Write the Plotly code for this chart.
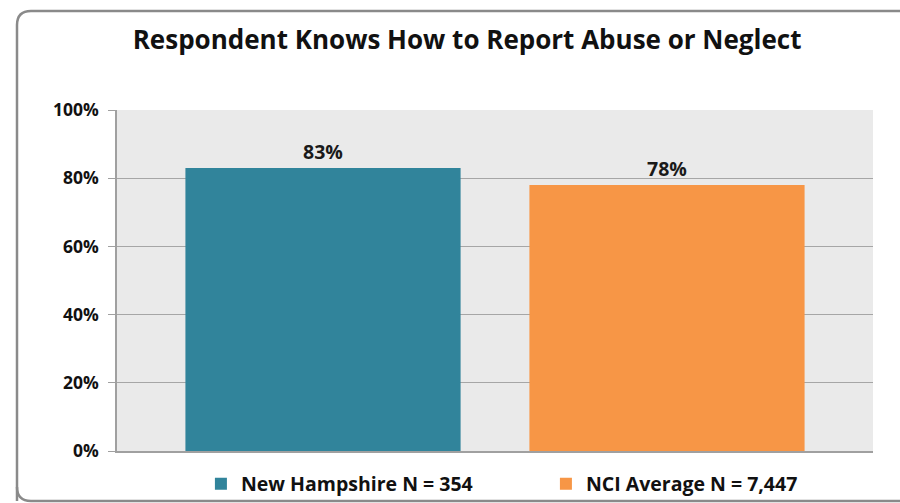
import plotly.graph_objects as go

# chart data
series = ["New Hampshire N = 354", "NCI Average N = 7,447"]
values = [83, 78]
labels = ["83%", "78%"]
colors = ["#31849B", "#F79646"]
y_ticks = [0, 20, 40, 60, 80, 100]
y_ticklabels = ["0%", "20%", "40%", "60%", "80%", "100%"]

W, H = 900, 503
L, R, T, B = 117, 27, 110, 52
pw, ph = W - L - R, H - T - B

def px_x(x):
    return (x - L) / pw

def px_y(y):
    return (H - B - y) / ph

fig = go.Figure()
for name, v, lab, c in zip(series, values, labels, colors):
    fig.add_trace(go.Bar(
        x=[""], y=[v], name=name, marker_color=c, marker_line_width=0,
        text=[lab], textposition="outside", cliponaxis=False,
        textfont=dict(size=19.5, color="#1a1a1a", family="Open Sans", weight="bold"),
    ))

# rounded outer frame (continues past the right and bottom edges)
x0, y0, r = 17, 11, 14
x1, y1 = 905, 501
path = (f"M {px_x(x0)},{px_y(y1)} L {px_x(x0)},{px_y(y0 + r)} "
        f"Q {px_x(x0)},{px_y(y0)} {px_x(x0 + r)},{px_y(y0)} "
        f"L {px_x(x1)},{px_y(y0)}")
path2 = (f"M {px_x(x0)},{px_y(y1 - r)} Q {px_x(x0)},{px_y(y1)} {px_x(x0 + r)},{px_y(y1)} "
         f"L {px_x(x1)},{px_y(y1)}")

fig.update_layout(
    width=W, height=H,
    margin=dict(l=L, r=R, t=T, b=B, autoexpand=False),
    paper_bgcolor="white",
    plot_bgcolor="#EAEAEA",
    barmode="group",
    bargap=0.09,
    bargroupgap=0.2,
    title=dict(text="<b>Respondent Knows How to Report Abuse or Neglect</b>",
               x=0.519, xanchor="center", y=0.921, yanchor="middle",
               font=dict(size=26, color="#111", family="Open Sans")),
    font=dict(family="Open Sans", color="#1a1a1a"),
    showlegend=True,
    legend=dict(orientation="h", x=0.111, xanchor="left", y=px_y(484), yanchor="middle",
                font=dict(size=19.5, weight="bold", color="#111"), entrywidth=300,
                itemwidth=30, bgcolor="rgba(0,0,0,0)"),
    shapes=[
        dict(type="path", path=path, xref="paper", yref="paper",
             line=dict(color="#8a8a8a", width=2.5), layer="above"),
        dict(type="path", path=path2, xref="paper", yref="paper",
             line=dict(color="#8a8a8a", width=2.5), layer="above"),
    ],
)
fig.update_xaxes(showticklabels=False, showline=True, linecolor="#A0A0A0",
                 linewidth=1.5, mirror=False, ticks="")
fig.update_yaxes(range=[0, 100], tickvals=y_ticks, ticktext=y_ticklabels,
                 showgrid=True, gridcolor="#A6A6A6", gridwidth=1.3,
                 showline=True, linecolor="#A0A0A0", linewidth=1.5,
                 ticks="outside", ticklen=7, tickcolor="#A0A0A0", tickwidth=1.3,
                 ticklabelstandoff=6,
                 tickfont=dict(size=17.5, weight="bold", color="#111"),
                 zeroline=False)

# the page body has a default 8px margin; drop it so the figure sits at 0,0
fig.write_html("out.html", config={"displayModeBar": False},
               post_script="document.body.style.margin='0';")
